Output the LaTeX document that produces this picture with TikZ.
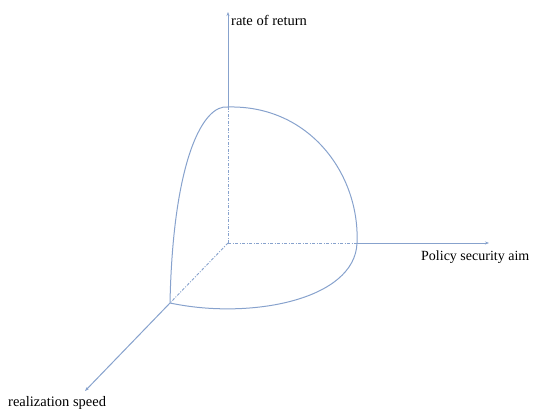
\documentclass[tikz,border=0pt]{standalone}
\usepackage{fontspec}
\setmainfont{Liberation Serif}
\usetikzlibrary{arrows.meta, positioning, calc}
\definecolor{axisblue}{RGB}{135,162,205}
\tikzset{
  ax line/.style={
    draw=axisblue, line width=1pt
  },
  ax arrow/.style={
    ax line, -{Stealth[length=4pt, width=3pt]}
  },
  ax hidden/.style={
    draw=axisblue, line width=0.9pt,
    dash pattern=on 3pt off 1.5pt on 1pt off 1.5pt
  },
  ax label/.style={
    font=\fontsize{14.5}{16}\selectfont, inner sep=0pt, anchor=west
  },
  surf line/.style={
    draw=axisblue, line width=1pt
  }
}
\begin{document}
\begin{tikzpicture}[x=1pt, y=-1pt]
  \useasboundingbox (0,0) rectangle (533,409);
  % origin and axis ends
  \coordinate (o) at (228,243);
  \coordinate (ret) at (228,107);
  \coordinate (aim) at (357,243);
  \coordinate (spd) at (170,303);
  \coordinate (retend) at (228,12);
  \coordinate (aimend) at (489,243);
  \coordinate (spdend) at (85,391);
  % labels
  \node (lret) [ax label] at (231,20) {rate of return};
  \node (laim) [ax label, font=\fontsize{14}{16}\selectfont] at (421,257) {Policy security aim};
  \node (lspd) [ax label] at (8,403) {realization speed};
  % hidden parts of the axes
  \draw [ax hidden] (o) -- (ret);
  \draw [ax hidden] (o) -- (aim);
  \draw [ax hidden] (o) -- (spd);
  % visible parts of the axes
  \draw [ax arrow] (ret) -- (retend);
  \draw [ax arrow] (aim) -- (aimend);
  \draw [ax arrow] (spd) -- (spdend);
  % surface outline
  \draw [surf line] (ret) .. controls (310,105) and (360,175) .. (aim);
  \draw [surf line] (ret) .. controls (203,104) and (173,160) .. (spd);
  \draw [surf line] (spd) .. controls (250,320) and (355,300) .. (aim);
\end{tikzpicture}
\end{document}
